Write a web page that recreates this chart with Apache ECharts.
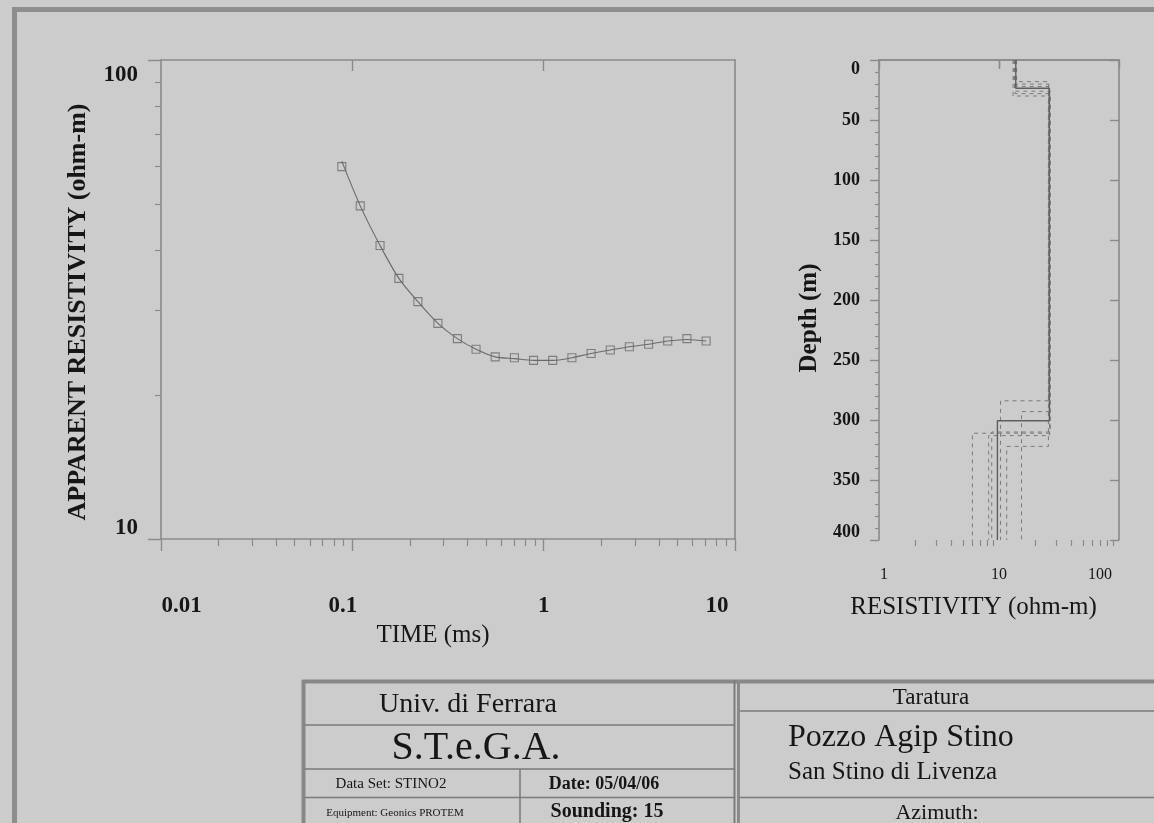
<!DOCTYPE html>
<html>
<head>
<meta charset="utf-8">
<title>TEM sounding 15 - STINO2</title>
<script src="https://cdn.jsdelivr.net/npm/echarts@6/dist/echarts.min.js"></script>
<style>
  html, body { margin: 0; padding: 0; background: #cccccc; }
  #chart { width: 1154px; height: 823px; }
</style>
</head>
<body>
<div id="chart"></div>
<script>
// ---- Sounding curve: gate times (ms) and apparent resistivity (ohm-m) ----
const TIME_MS = [0.0881, 0.110, 0.1396, 0.1751, 0.2201, 0.2801, 0.3541, 0.4431, 0.5581, 0.7031,
                 0.8851, 1.115, 1.405, 1.770, 2.230, 2.805, 3.535, 4.450, 5.605, 7.065];
const RHO_OBSERVED = [59.9, 49.6, 41.0, 35.0, 31.3, 28.2, 26.2, 24.9, 24.0, 23.9,
                      23.6, 23.6, 23.9, 24.4, 24.8, 25.2, 25.5, 25.9, 26.2, 25.9];
const RHO_CALCULATED = [61.5, 49.6, 41.0, 35.0, 31.3, 28.2, 26.2, 24.9, 24.0, 23.8,
                        23.6, 23.6, 23.9, 24.4, 24.8, 25.2, 25.5, 25.9, 26.1, 25.9];

// ---- Tick values ----
const TIME_TICKS = [0.01, 0.1, 1, 10];
const TIME_MINOR = [0.02, 0.03, 0.04, 0.05, 0.06, 0.07, 0.08, 0.09,
                    0.2, 0.3, 0.4, 0.5, 0.6, 0.7, 0.8, 0.9,
                    2, 3, 4, 5, 6, 7, 8, 9];
const TIME_TOP_TICKS = [0.1, 1];
const APP_RHO_TICKS = [10, 100];
const APP_RHO_MINOR = [20, 30, 40, 50, 60, 70, 80, 90];
const RES_TICKS = [1, 10, 100];
const RES_MINOR = [2, 3, 4, 5, 6, 7, 8, 9, 20, 30, 40, 50, 60, 70, 80, 90];
const RES_TOP_TICKS = [10];

// ---- Layered model (resistivity per layer, depth of each layer bottom) ----
const LAYER_RHO = [13.8, 26.3, 9.7];
const LAYER_BOTTOM = [23.6, 300.6];
// Equivalent models
const EQUIV_1_RHO = [13.3, 26.0, 10.3], EQUIV_1_BOTTOM = [20, 284];
const EQUIV_2_RHO = [13.6, 26.6, 6.0],  EQUIV_2_BOTTOM = [28, 311];
const EQUIV_3_RHO = [14.0, 25.8, 11.6], EQUIV_3_BOTTOM = [18, 322];
const EQUIV_4_RHO = [13.1, 26.4, 8.2],  EQUIV_4_BOTTOM = [30, 313];
const EQUIV_5_RHO = [13.9, 26.2, 15.4], EQUIV_5_BOTTOM = [22, 293];
const EQUIV_6_RHO = [13.5, 26.7, 8.7],  EQUIV_6_BOTTOM = [26, 310];
const MAX_DEPTH = 400;

const SERIF = "'Liberation Serif', 'Times New Roman', serif";
const AXIS_COLOR = '#8a8a8a';
const INK = '#161616';
const MARK = '#6a6a6a';

function stepProfile(rho, bottoms) {
  const pts = [];
  let top = 0;
  rho.forEach((r, i) => {
    const bot = i < bottoms.length ? bottoms[i] : MAX_DEPTH;
    pts.push([r, top], [r, bot]);
    top = bot;
  });
  return pts;
}

function decade(v) { return Math.round(Math.log10(v)); }

const LEFT = { left: 161, top: 60, width: 574, height: 479 };
const RIGHT = { left: 879, top: 60, width: 240, height: 480 };

const axisLine = { show: true, lineStyle: { color: AXIS_COLOR, width: 1.6 } };
const noLabel = { show: false };
const noSplit = { show: false };

function richFont(size, weight) {
  return { fontFamily: SERIF, fontSize: size, fontWeight: weight, color: INK };
}

const chart = echarts.init(document.getElementById('chart'), null, { renderer: 'canvas' });

const equivModels = [
  [EQUIV_1_RHO, EQUIV_1_BOTTOM], [EQUIV_2_RHO, EQUIV_2_BOTTOM], [EQUIV_3_RHO, EQUIV_3_BOTTOM],
  [EQUIV_4_RHO, EQUIV_4_BOTTOM], [EQUIV_5_RHO, EQUIV_5_BOTTOM], [EQUIV_6_RHO, EQUIV_6_BOTTOM]
];

const option = {
  backgroundColor: '#cccccc',
  animation: false,
  grid: [
    Object.assign({}, LEFT),
    Object.assign({}, LEFT),
    Object.assign({}, RIGHT),
    Object.assign({}, RIGHT)
  ],
  xAxis: [
    // 0: time axis, decades
    {
      type: 'log', gridIndex: 0, position: 'bottom', min: 0.01, max: 10, logBase: 10,
      axisLine: axisLine,
      axisTick: { show: true, length: 12, customValues: TIME_TICKS, lineStyle: { color: AXIS_COLOR, width: 1.4 } },
      axisLabel: {
        show: true, customValues: TIME_TICKS, margin: 56,
        fontFamily: SERIF, fontSize: 23, fontWeight: 'bold', color: INK,
        formatter: v => ['{a|0.01}', '{b|0.1}', '{c|1}', '{d|10}'][decade(v) + 2],
        rich: {
          a: Object.assign(richFont(23, 'bold'), { padding: [0, 0, 0, 41] }),
          b: Object.assign(richFont(23, 'bold'), { padding: [0, 19, 0, 0] }),
          c: richFont(23, 'bold'),
          d: Object.assign(richFont(23, 'bold'), { padding: [0, 36, 0, 0] })
        }
      },
      splitLine: noSplit,
      name: 'TIME (ms)', nameLocation: 'middle', nameGap: 80,
      nameTextStyle: { fontFamily: SERIF, fontSize: 25, color: INK, padding: [0, 30, 0, 0] }
    },
    // 1: top frame of the sounding plot
    {
      type: 'log', gridIndex: 0, position: 'top', min: 0.01, max: 10,
      axisLine: axisLine,
      axisTick: { show: true, inside: true, length: 11, customValues: TIME_TOP_TICKS, lineStyle: { color: AXIS_COLOR, width: 1.4 } },
      axisLabel: noLabel, splitLine: noSplit
    },
    // 2: time axis, minor ticks
    {
      type: 'log', gridIndex: 1, position: 'bottom', min: 0.01, max: 10,
      axisLine: { show: false },
      axisTick: { show: true, length: 7, customValues: TIME_MINOR, lineStyle: { color: AXIS_COLOR, width: 1.2 } },
      axisLabel: noLabel, splitLine: noSplit
    },
    // 3: resistivity axis of the model panel
    {
      type: 'log', gridIndex: 2, position: 'bottom', min: 1, max: 100,
      axisLine: axisLine,
      axisTick: { show: true, length: 9, customValues: RES_TICKS, lineStyle: { color: AXIS_COLOR, width: 1.4 } },
      axisLabel: {
        show: true, customValues: RES_TICKS, margin: 27,
        fontFamily: SERIF, fontSize: 16, color: INK,
        formatter: v => ['{a|1}', '{b|10}', '{c|100}'][decade(v)],
        rich: {
          a: Object.assign(richFont(16, 'normal'), { padding: [0, 0, 0, 10] }),
          b: richFont(16, 'normal'),
          c: Object.assign(richFont(16, 'normal'), { padding: [0, 38, 0, 0] })
        }
      },
      splitLine: noSplit,
      name: 'RESISTIVITY (ohm-m)', nameLocation: 'middle', nameGap: 55,
      nameTextStyle: { fontFamily: SERIF, fontSize: 25, color: INK, padding: [0, 51, 0, 0] }
    },
    // 4: top frame of the model panel
    {
      type: 'log', gridIndex: 2, position: 'top', min: 1, max: 100,
      axisLine: axisLine,
      axisTick: { show: true, inside: true, length: 8, customValues: RES_TOP_TICKS, lineStyle: { color: AXIS_COLOR, width: 1.4 } },
      axisLabel: noLabel, splitLine: noSplit
    },
    // 5: resistivity minor ticks
    {
      type: 'log', gridIndex: 3, position: 'bottom', min: 1, max: 100,
      axisLine: { show: false },
      axisTick: { show: true, length: 6, customValues: RES_MINOR, lineStyle: { color: AXIS_COLOR, width: 1.2 } },
      axisLabel: noLabel, splitLine: noSplit
    }
  ],
  yAxis: [
    // 0: apparent resistivity, decades
    {
      type: 'log', gridIndex: 0, position: 'left', min: 10, max: 100,
      axisLine: axisLine,
      axisTick: { show: true, length: 13, customValues: APP_RHO_TICKS, lineStyle: { color: AXIS_COLOR, width: 1.4 } },
      axisLabel: {
        show: true, customValues: APP_RHO_TICKS, margin: 23,
        fontFamily: SERIF, fontSize: 23, fontWeight: 'bold', color: INK,
        formatter: v => (decade(v) === 2 ? '{t|100}' : '{b|10}'),
        rich: {
          t: Object.assign(richFont(23, 'bold'), { padding: [30, 0, 0, 0] }),
          b: Object.assign(richFont(23, 'bold'), { padding: [0, 0, 22, 0] })
        }
      },
      splitLine: noSplit,
      name: 'APPARENT RESISTIVITY (ohm-m)', nameLocation: 'middle', nameGap: 70,
      nameTextStyle: { fontFamily: SERIF, fontSize: 26, fontWeight: 'bold', color: INK, padding: [0, 25, 0, 0] }
    },
    // 1: right frame of the sounding plot
    {
      type: 'log', gridIndex: 0, position: 'right', min: 10, max: 100,
      axisLine: axisLine, axisTick: { show: false }, axisLabel: noLabel, splitLine: noSplit
    },
    // 2: apparent resistivity minor ticks
    {
      type: 'log', gridIndex: 1, position: 'left', min: 10, max: 100,
      axisLine: { show: false },
      axisTick: { show: true, length: 6, customValues: APP_RHO_MINOR, lineStyle: { color: AXIS_COLOR, width: 1.2 } },
      axisLabel: noLabel, splitLine: noSplit
    },
    // 3: depth
    {
      type: 'value', gridIndex: 2, position: 'left', min: 0, max: MAX_DEPTH, interval: 50, inverse: true,
      axisLine: axisLine,
      axisTick: { show: true, length: 9, lineStyle: { color: AXIS_COLOR, width: 1.4 } },
      minorTick: { show: true, splitNumber: 5, length: 4, lineStyle: { color: AXIS_COLOR, width: 1.2 } },
      axisLabel: {
        show: true, margin: 19,
        fontFamily: SERIF, fontSize: 18, fontWeight: 'bold', color: INK,
        formatter: v => (v === 0 ? '{t|0}' : (v === MAX_DEPTH ? '{b|' + v + '}' : '{m|' + v + '}')),
        rich: {
          t: Object.assign(richFont(18, 'bold'), { padding: [18, 0, 0, 0] }),
          m: richFont(18, 'bold'),
          b: Object.assign(richFont(18, 'bold'), { padding: [0, 0, 16, 0] })
        }
      },
      splitLine: noSplit, minorSplitLine: noSplit,
      name: 'Depth (m)', nameLocation: 'middle', nameGap: 57,
      nameTextStyle: { fontFamily: SERIF, fontSize: 25, fontWeight: 'bold', color: INK, padding: [0, 36, 0, 0] }
    },
    // 4: right frame of the model panel
    {
      type: 'value', gridIndex: 2, position: 'right', min: 0, max: MAX_DEPTH, interval: 50, inverse: true,
      axisLine: axisLine,
      axisTick: { show: true, inside: true, length: 9, lineStyle: { color: AXIS_COLOR, width: 1.4 } },
      axisLabel: noLabel, splitLine: noSplit
    },
    // 5: placeholder for the minor-tick grid
    { type: 'value', gridIndex: 3, min: 0, max: MAX_DEPTH, show: false }
  ],
  series: [
    {
      name: 'calculated', type: 'line', xAxisIndex: 0, yAxisIndex: 0,
      data: TIME_MS.map((t, i) => [t, RHO_CALCULATED[i]]),
      smooth: 0.3, showSymbol: false, silent: true,
      lineStyle: { color: MARK, width: 1.1 }, z: 3
    },
    {
      name: 'observed', type: 'scatter', xAxisIndex: 0, yAxisIndex: 0,
      data: TIME_MS.map((t, i) => [t, RHO_OBSERVED[i]]),
      symbol: 'rect', symbolSize: 8,
      itemStyle: { color: 'rgba(0,0,0,0)', borderColor: MARK, borderWidth: 1.1 }, z: 4
    },
    ...equivModels.map(([rho, bot], k) => ({
      name: 'equivalent ' + (k + 1), type: 'line', xAxisIndex: 3, yAxisIndex: 3,
      data: stepProfile(rho, bot), showSymbol: false, silent: true,
      lineStyle: { color: '#7a7a7a', width: 1, type: [4, 4] }, z: 2
    })),
    {
      name: 'model', type: 'line', xAxisIndex: 3, yAxisIndex: 3,
      data: stepProfile(LAYER_RHO, LAYER_BOTTOM), showSymbol: false, silent: true,
      lineStyle: { color: '#5e5e5e', width: 1.4 }, z: 3
    }
  ],
  graphic: {
    elements: [
      // sheet frame
      { type: 'rect', shape: { x: 14.5, y: 9.5, width: 1300, height: 1000 },
        style: { fill: 'none', stroke: '#8e8e8e', lineWidth: 5 }, silent: true },
      // title block borders
      { type: 'line', shape: { x1: 302, y1: 681.5, x2: 1160, y2: 681.5 }, style: { stroke: '#888', lineWidth: 4 } },
      { type: 'line', shape: { x1: 303.5, y1: 680, x2: 303.5, y2: 830 }, style: { stroke: '#888', lineWidth: 4 } },
      { type: 'line', shape: { x1: 734.5, y1: 680, x2: 734.5, y2: 830 }, style: { stroke: '#7c7c7c', lineWidth: 2 } },
      { type: 'line', shape: { x1: 738.5, y1: 680, x2: 738.5, y2: 830 }, style: { stroke: '#8a8a8a', lineWidth: 3 } },
      { type: 'line', shape: { x1: 305, y1: 725, x2: 734, y2: 725 }, style: { stroke: '#7a7a7a', lineWidth: 1.5 } },
      { type: 'line', shape: { x1: 305, y1: 769, x2: 734, y2: 769 }, style: { stroke: '#7a7a7a', lineWidth: 1.5 } },
      { type: 'line', shape: { x1: 305, y1: 797.5, x2: 734, y2: 797.5 }, style: { stroke: '#7a7a7a', lineWidth: 1.5 } },
      { type: 'line', shape: { x1: 520, y1: 769, x2: 520, y2: 830 }, style: { stroke: '#7a7a7a', lineWidth: 1.5 } },
      { type: 'line', shape: { x1: 740, y1: 711, x2: 1160, y2: 711 }, style: { stroke: '#7a7a7a', lineWidth: 1.5 } },
      { type: 'line', shape: { x1: 740, y1: 797.5, x2: 1160, y2: 797.5 }, style: { stroke: '#7a7a7a', lineWidth: 1.5 } },
      // title block text
      { type: 'text', style: { text: 'Univ. di Ferrara', x: 468, y: 705, align: 'center', verticalAlign: 'middle',
        font: '28px ' + SERIF, fill: INK } },
      { type: 'text', style: { text: 'S.T.e.G.A.', x: 476, y: 748, align: 'center', verticalAlign: 'middle',
        font: '40px ' + SERIF, fill: INK } },
      { type: 'text', style: { text: 'Data Set: STINO2', x: 391, y: 784, align: 'center', verticalAlign: 'middle',
        font: '15px ' + SERIF, fill: INK } },
      { type: 'text', style: { text: 'Date: 05/04/06', x: 604, y: 784, align: 'center', verticalAlign: 'middle',
        font: 'bold 18px ' + SERIF, fill: INK } },
      { type: 'text', style: { text: 'Equipment: Geonics PROTEM', x: 395, y: 813, align: 'center', verticalAlign: 'middle',
        font: '11px ' + SERIF, fill: INK } },
      { type: 'text', style: { text: 'Sounding: 15', x: 607, y: 812, align: 'center', verticalAlign: 'middle',
        font: 'bold 20px ' + SERIF, fill: INK } },
      { type: 'text', style: { text: 'Taratura', x: 931, y: 698, align: 'center', verticalAlign: 'middle',
        font: '23px ' + SERIF, fill: INK } },
      { type: 'text', style: { text: 'Pozzo Agip Stino', x: 788, y: 738, align: 'left', verticalAlign: 'middle',
        font: '32px ' + SERIF, fill: INK } },
      { type: 'text', style: { text: 'San Stino di Livenza', x: 788, y: 772, align: 'left', verticalAlign: 'middle',
        font: '25px ' + SERIF, fill: INK } },
      { type: 'text', style: { text: 'Azimuth:', x: 937, y: 813, align: 'center', verticalAlign: 'middle',
        font: '22px ' + SERIF, fill: INK } }
    ]
  }
};

chart.setOption(option);
</script>
</body>
</html>
